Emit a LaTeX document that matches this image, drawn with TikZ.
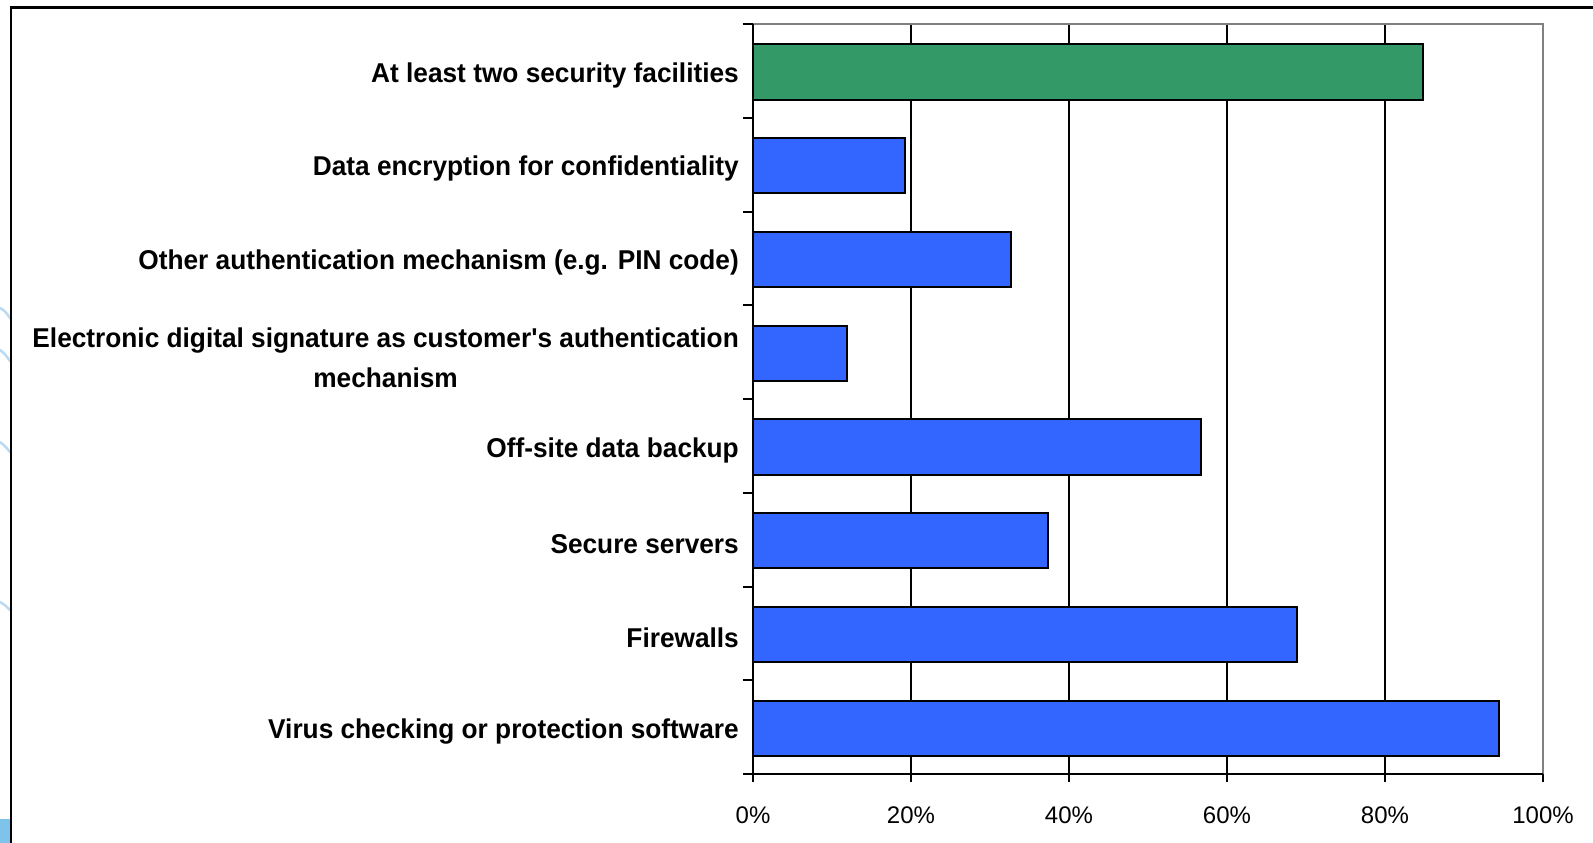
\documentclass[tikz,border=0pt]{standalone}
\usepackage{fontspec}
\setmainfont{Liberation Sans}[Ligatures=TeXOff]
\newfontfamily\catfont{Liberation Sans}[Ligatures=TeXOff,FakeStretch=0.965]
\definecolor{barblue}{RGB}{51,102,255}
\definecolor{bargreen}{RGB}{51,153,102}
\definecolor{plotgray}{RGB}{128,128,128}
\definecolor{swirl}{RGB}{185,218,242}
\definecolor{cornerblue}{RGB}{125,195,235}
\begin{document}
\begin{tikzpicture}[x=1pt,y=-1pt,
  catlab/.style={font=\catfont\fontsize{27.2}{40}\selectfont\bfseries, anchor=east, align=center, inner sep=0pt},
  axlab/.style={font=\fontsize{24}{28}\selectfont, inner sep=0pt},
  bluebar/.style={draw=black, line width=2pt, fill=barblue},
  greenbar/.style={draw=black, line width=2pt, fill=bargreen},
  gridline/.style={line width=1.3pt, black},
  axisline/.style={line width=2pt, black},
  swirlline/.style={swirl, line width=2.5pt, line cap=round}]
\useasboundingbox (0,0) rectangle (1593,843);
\fill[white] (0,0) rectangle (1593,843);
% background decoration on the left edge
\draw[swirlline] (0,308) .. controls (5,311) .. (10,318);
\draw[swirlline] (0,350) .. controls (5,354) .. (10,361);
\draw[swirlline] (0,442) .. controls (5,446) .. (10,452);
\draw[swirlline] (0,602) .. controls (5,605) .. (10,610);
\fill[cornerblue] (0,819) rectangle (10,843);
% outer frame
\draw[line width=2.7pt] (11,843) -- (11,7.3) -- (1593,7.3);
% gridlines
\foreach \i in {1,...,4} \draw[gridline] ({753+158*\i},24) -- ({753+158*\i},774);
% plot border
\draw[plotgray, line width=2pt] (753,24) -- (1543,24) -- (1543,774);
% bars
\draw[greenbar] (753,{24+20.3}) rectangle ({753+7.9*84.8},{24+75.7});
\foreach \v [count=\i from 1] in {19.2,32.7,11.9,56.7,37.3,68.9,94.4}
  \draw[bluebar] (753,{24+93.75*\i+20.3}) rectangle ({753+7.9*\v},{24+93.75*\i+75.7});
% axes
\draw[axisline] (753,24) -- (753,774) -- (1543,774);
\foreach \i in {0,...,8} \draw[axisline] (742.5,{24+93.75*\i}) -- (753,{24+93.75*\i});
\foreach \i in {0,...,5} \draw[axisline] ({753+158*\i},774) -- ({753+158*\i},782);
% category labels
\node[catlab] (c1) at (739,{24+48+3}) {At least two security facilities};
\node[catlab] (c2) at (739,{24+93.75*1+48+3}) {Data encryption for confidentiality};
\node[catlab] (c3) at (739,{24+93.75*2+48+3}) {Other authentication mechanism (e.g. PIN code)};
\node[catlab] (c4) at (739,{24+93.75*3+48+4.5}) {Electronic digital signature as customer's authentication\\mechanism};
\node[catlab] (c5) at (739,{24+93.75*4+48+3}) {Off-site data backup};
\node[catlab] (c6) at (739,{24+93.75*5+48+3}) {Secure servers};
\node[catlab] (c7) at (739,{24+93.75*6+48+3}) {Firewalls};
\node[catlab] (c8) at (739,{24+93.75*7+48+3}) {Virus checking or protection software};
% axis labels
\foreach \p [count=\i from 0] in {0\%,20\%,40\%,60\%,80\%,100\%}
  \node[axlab] (t\i) at ({753+158*\i},815) {\p};
\end{tikzpicture}
\end{document}
